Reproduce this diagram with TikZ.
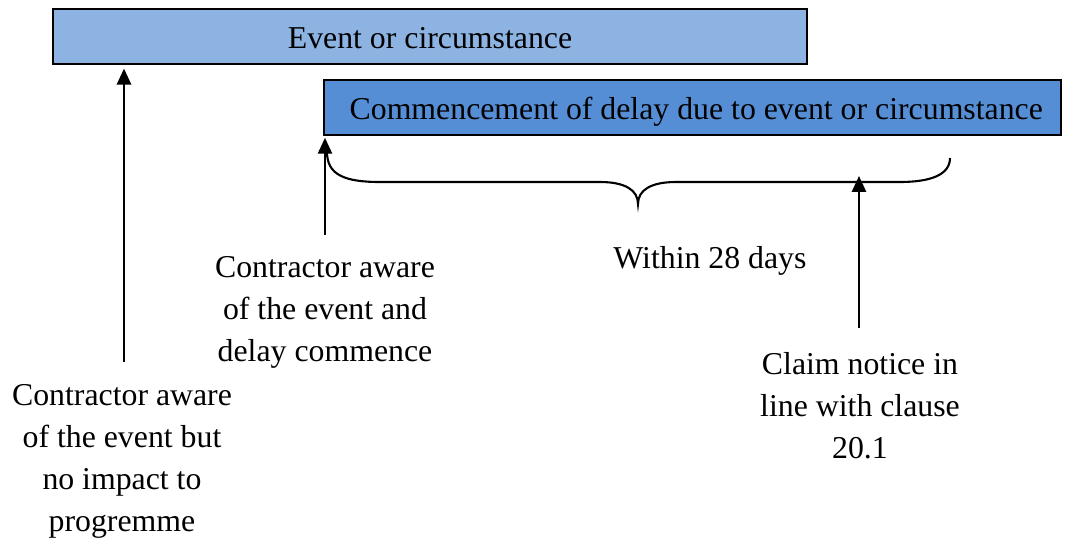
\documentclass[tikz,border=0pt]{standalone}
\usepackage{fontspec}
\setmainfont{Liberation Serif}
\newfontfamily\timesfont{Liberation Serif}
\usetikzlibrary{arrows.meta}

\definecolor{eventblue}{RGB}{141,179,226}
\definecolor{delayblue}{RGB}{85,142,213}

\tikzset{
  bar/.style={draw, line width=0.7pt, inner sep=0pt,
              text height=10.5pt, text depth=2.3pt,
              font=\timesfont\fontsize{10.6}{14}\selectfont},
  note/.style={align=center, font=\timesfont\fontsize{10.6}{14}\selectfont},
  pointer/.style={line width=0.8pt, -{Triangle[length=5.3pt,width=4.7pt]}},
}

\begin{document}
\begin{tikzpicture}[x=0.3333pt,y=-0.3333pt]
  \useasboundingbox (0,0) rectangle (1065,540);

  % the two bars
  \node[bar, fill=eventblue, minimum width=251.3pt, minimum height=18.3pt]
       (event) at (430,36.5) {Event or circumstance};
  \node[bar, fill=delayblue, minimum width=245.7pt, minimum height=18.3pt]
       (delay) at (692.5,107.5) {\hspace{2.5pt}Commencement of delay due to event or circumstance};

  % brace under the delay bar
  \draw[line width=0.7pt]
       (327,152) .. controls (327,175) and (345,182) .. (380,182) -- (600,182)
       .. controls (625,182) and (638,190) .. (638,204)
       .. controls (638,190) and (651,182) .. (676,182) -- (900,182)
       .. controls (930,182) and (950,175) .. (950,158);
  \node[note] (within) at (710,261) {Within 28 days};
  \coordinate (bracemid) at (859,176);

  % notes and their arrows
  \node[note] (noimpact) at (122,461)
       {Contractor aware\\of the event but\\no impact to\\progremme};
  \node[note] (aware) at (325,312)
       {Contractor aware\\of the event and\\delay commence};
  \node[note] (claim) at (860,406)
       {Claim notice in\\line with clause\\20.1};

  \coordinate (s1) at (124,362);
  \coordinate (s2) at (325,235);
  \coordinate (s3) at (859,328);
  \draw[pointer, shorten >=1.2pt] (s1) -- (s1 |- event.south);
  \draw[pointer, shorten >=0.6pt] (s2) -- (s2 |- delay.south);
  \draw[pointer] (s3) -- (bracemid);

\end{tikzpicture}
\end{document}
